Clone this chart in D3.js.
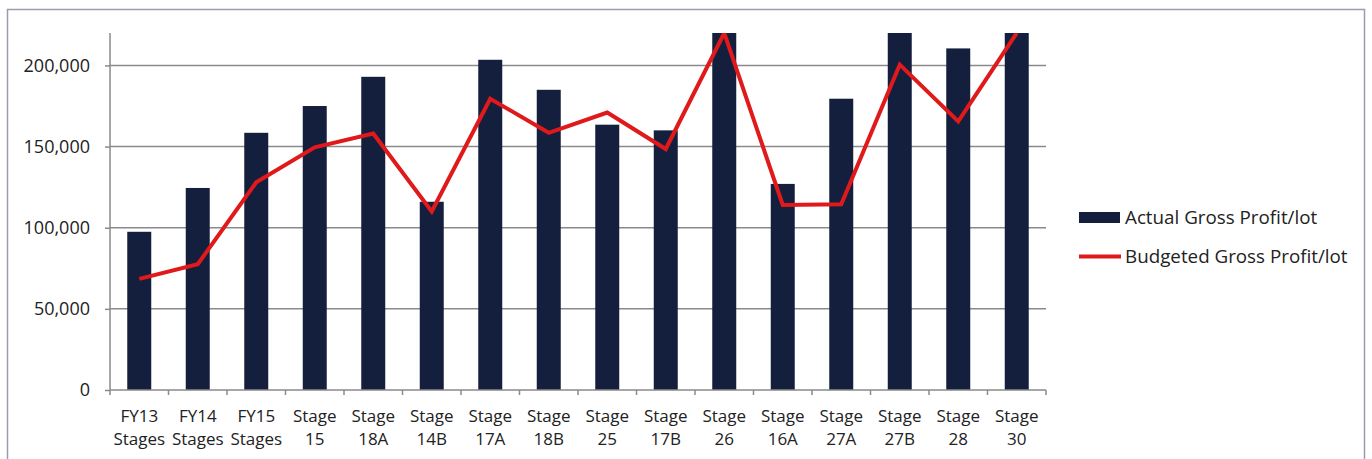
<!DOCTYPE html>
<html>
<head>
<meta charset="utf-8">
<script src="https://cdn.jsdelivr.net/npm/d3@7"></script>
<style>
  body { margin: 0; background: #fff; }
  svg { display: block; font-family: "Open Sans", sans-serif; }
</style>
</head>
<body>
<svg id="chart" width="1372" height="459"></svg>
<script>
"use strict";

// categories (two-line labels)
var categories = ['FY13 Stages', 'FY14 Stages', 'FY15 Stages', 'Stage 15', 'Stage 18A',
  'Stage 14B', 'Stage 17A', 'Stage 18B', 'Stage 25', 'Stage 17B', 'Stage 26',
  'Stage 16A', 'Stage 27A', 'Stage 27B', 'Stage 28', 'Stage 30'];

var actual = [97500, 124500, 158500, 175000, 193000, 116000, 203500, 185000,
  163500, 160000, 220000, 127000, 179500, 220000, 210500, 220000];

var budgeted = [68500, 77500, 128000, 149500, 158000, 110000, 179500, 158500,
  171000, 148500, 220000, 114000, 114500, 200500, 165500, 220000];

var seriesNames = ['Actual Gross Profit/lot', 'Budgeted Gross Profit/lot'];
var yTicks = [0, 50000, 100000, 150000, 200000];
var yMax = 220000;

var barColor = '#141f3d';
var lineColor = '#e0191b';
var gridColor = '#8a8a8a';

function draw_chart(svg) {
  var margin = { top: 33, left: 110, right: 326, bottom: 69 };
  var width = 1372 - margin.left - margin.right;
  var height = 459 - margin.top - margin.bottom;

  // outer frame
  svg.append('rect')
    .attr('x', 7.5).attr('y', 9.5)
    .attr('width', 1357).attr('height', 470)
    .attr('fill', 'none')
    .attr('stroke', '#9a9ab0')
    .attr('stroke-width', 1.5);

  svg.append('clipPath')
    .attr('id', 'plotclip')
    .append('rect')
    .attr('x', -10).attr('y', 0)
    .attr('width', width + 20).attr('height', height);

  var plot = svg.append('g')
    .attr('transform', 'translate(' + margin.left + ',' + margin.top + ')');

  var X = d3.scaleBand()
    .domain(categories)
    .range([0, width])
    .paddingInner(0.59)
    .paddingOuter(0.295);

  var Y = d3.scaleLinear()
    .domain([0, yMax])
    .range([height, 0]);

  // gridlines
  plot.append('g')
    .selectAll('line')
    .data(yTicks.filter(function (d) { return d > 0; }))
    .join('line')
    .attr('x1', 0).attr('x2', width)
    .attr('y1', function (d) { return Y(d); })
    .attr('y2', function (d) { return Y(d); })
    .attr('stroke', gridColor)
    .attr('stroke-width', 1.5);

  // bars
  plot.append('g')
    .selectAll('rect')
    .data(actual)
    .join('rect')
    .attr('x', function (d, i) { return X(categories[i]); })
    .attr('y', function (d) { return Y(d); })
    .attr('width', X.bandwidth())
    .attr('height', function (d) { return height - Y(d); })
    .attr('fill', barColor);

  // budget line
  var valueline = d3.line()
    .x(function (d, i) { return X(categories[i]) + X.bandwidth() / 2; })
    .y(function (d) { return Y(d); });

  plot.append('path')
    .datum(budgeted)
    .attr('d', valueline)
    .attr('clip-path', 'url(#plotclip)')
    .attr('fill', 'none')
    .attr('stroke', lineColor)
    .attr('stroke-width', 4)
    .attr('stroke-linejoin', 'miter');

  // y axis
  var yaxis = d3.axisLeft(Y)
    .tickValues(yTicks)
    .tickSize(5)
    .tickPadding(15)
    .tickFormat(d3.format(','));
  var ya = plot.append('g').call(yaxis);
  ya.select('.domain').attr('stroke', gridColor).attr('stroke-width', 1.5)
    .attr('d', 'M0,0V' + height);
  ya.selectAll('.tick line').attr('stroke', gridColor).attr('stroke-width', 1.5);
  ya.selectAll('.tick text')
    .attr('font-family', '"Open Sans", sans-serif')
    .attr('font-size', 18)
    .attr('fill', '#222');

  // x axis, ticks on band boundaries
  var xa = plot.append('g')
    .attr('transform', 'translate(0,' + height + ')');
  xa.append('line')
    .attr('x1', 0).attr('x2', width)
    .attr('stroke', gridColor).attr('stroke-width', 1.5);
  var step = X.step();
  xa.selectAll('line.tk')
    .data(d3.range(categories.length + 1))
    .join('line')
    .attr('class', 'tk')
    .attr('x1', function (i) { return i * step; })
    .attr('x2', function (i) { return i * step; })
    .attr('y1', 0).attr('y2', 5)
    .attr('stroke', gridColor).attr('stroke-width', 1.5);

  var labels = xa.selectAll('text')
    .data(categories)
    .join('text')
    .attr('text-anchor', 'middle')
    .attr('font-size', 17)
    .attr('fill', '#222')
    .attr('transform', function (d) {
      return 'translate(' + (X(d) + X.bandwidth() / 2) + ',0)';
    });
  labels.each(function (d) {
    var parts = d.split(' ');
    var t = d3.select(this);
    t.append('tspan').attr('x', 0).attr('y', 32).text(parts[0]);
    t.append('tspan').attr('x', 0).attr('y', 55).text(parts[1]);
  });

  // legend
  var legend = svg.append('g')
    .attr('transform', 'translate(1079,0)');
  legend.append('rect')
    .attr('x', 0).attr('y', 212)
    .attr('width', 41).attr('height', 11)
    .attr('fill', barColor);
  legend.append('line')
    .attr('x1', 0).attr('x2', 42)
    .attr('y1', 256.5).attr('y2', 256.5)
    .attr('stroke', lineColor)
    .attr('stroke-width', 4);
  legend.selectAll('text')
    .data(seriesNames)
    .join('text')
    .attr('x', 46)
    .attr('y', function (d, i) { return 224 + i * 39; })
    .attr('font-size', 18.8)
    .attr('fill', '#222')
    .text(function (d) { return d; });
}

draw_chart(d3.select('#chart'));
</script>
</body>
</html>
